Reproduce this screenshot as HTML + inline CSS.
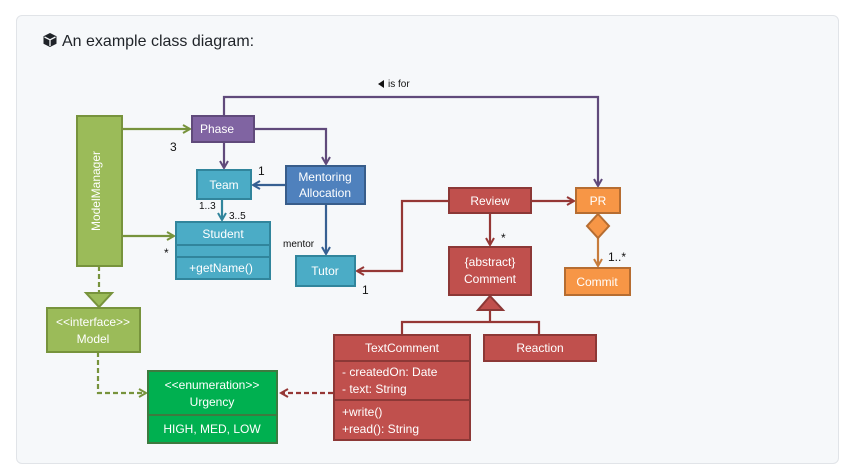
<!DOCTYPE html>
<html><head><meta charset="utf-8"><style>
html,body{margin:0;padding:0;background:#fff;width:851px;height:474px;overflow:hidden}
.box{position:absolute;left:16px;top:15px;width:821px;height:447px;background:#f6f8fa;border:1px solid #e1e4e8;border-radius:6px}
.title{position:absolute;left:42px;top:30px;font:16px "Liberation Sans",sans-serif;color:#1f2328}
svg{position:absolute;left:0;top:0}
text{font-family:"Liberation Sans",sans-serif}
</style></head><body>
<div class="box"></div>
<div class="title"><svg width="16" height="16" viewBox="0 0 16 16" style="position:relative;top:2px;left:0;margin-right:4px"><path d="M8 1 L14.5 4.2 V11.8 L8 15 L1.5 11.8 V4.2Z" fill="#1f2328"/><path d="M2.5 5 L8 7.8 L13.5 5 M8 7.8 V14" stroke="#f6f8fa" stroke-width="1.3" fill="none"/></svg>An example class diagram:</div>
<svg width="851" height="474" viewBox="0 0 851 474">
<defs>
<marker id="ag" markerWidth="10" markerHeight="10" refX="8" refY="5" orient="auto" markerUnits="userSpaceOnUse"><path d="M1 1 L8 5 L1 9" fill="none" stroke="#77933c" stroke-width="2"/></marker>
<marker id="ap" markerWidth="10" markerHeight="10" refX="8" refY="5" orient="auto" markerUnits="userSpaceOnUse"><path d="M1 1 L8 5 L1 9" fill="none" stroke="#604a7b" stroke-width="2"/></marker>
<marker id="ab" markerWidth="10" markerHeight="10" refX="8" refY="5" orient="auto" markerUnits="userSpaceOnUse"><path d="M1 1 L8 5 L1 9" fill="none" stroke="#376092" stroke-width="2"/></marker>
<marker id="at" markerWidth="10" markerHeight="10" refX="8" refY="5" orient="auto" markerUnits="userSpaceOnUse"><path d="M1 1 L8 5 L1 9" fill="none" stroke="#31859c" stroke-width="2"/></marker>
<marker id="ar" markerWidth="10" markerHeight="10" refX="8" refY="5" orient="auto" markerUnits="userSpaceOnUse"><path d="M1 1 L8 5 L1 9" fill="none" stroke="#953735" stroke-width="2"/></marker>
<marker id="ao" markerWidth="10" markerHeight="10" refX="8" refY="5" orient="auto" markerUnits="userSpaceOnUse"><path d="M1 1 L8 5 L1 9" fill="none" stroke="#c77c3c" stroke-width="2"/></marker>
</defs>
<g fill="none" stroke-width="2.2">
<path d="M122 129 H190" stroke="#77933c" marker-end="url(#ag)"/>
<path d="M122 236 H174" stroke="#77933c" marker-end="url(#ag)"/>
<path d="M99 266 V293" stroke="#77933c" stroke-dasharray="5,3"/>
<path d="M98 352 V393 H146" stroke="#77933c" stroke-dasharray="5,3" marker-end="url(#ag)"/>
<path d="M224 142 V168" stroke="#604a7b" marker-end="url(#ap)"/>
<path d="M254 129 H326 V164" stroke="#604a7b" marker-end="url(#ap)"/>
<path d="M224 116 V97 H598 V186" stroke="#604a7b" marker-end="url(#ap)"/>
<path d="M286 185 H253" stroke="#376092" marker-end="url(#ab)"/>
<path d="M326 204 V254" stroke="#376092" marker-end="url(#ab)"/>
<path d="M222 199 V220" stroke="#31859c" marker-end="url(#at)"/>
<path d="M449 201 H402 V271 H357" stroke="#953735" marker-end="url(#ar)"/>
<path d="M531 201 H574" stroke="#953735" marker-end="url(#ar)"/>
<path d="M490 213 V245" stroke="#953735" marker-end="url(#ar)"/>
<path d="M402 335 V322 H539 V335 M490 322 V310" stroke="#953735"/>
<path d="M598 237 V266" stroke="#c77c3c" marker-end="url(#ao)"/>
</g>
<g stroke-width="2">
<rect x="77" y="116" width="45" height="150" fill="#9bbb59" stroke="#77933c"/>
<path d="M86 293 H112 L99 307Z" fill="#9bbb59" stroke="#77933c"/>
<rect x="47" y="308" width="93" height="44" fill="#9bbb59" stroke="#77933c"/>
<rect x="192" y="116" width="62" height="26" fill="#8064a2" stroke="#604a7b"/>
<rect x="197" y="170" width="54" height="29" fill="#4bacc6" stroke="#31859c"/>
<rect x="286" y="166" width="79" height="38" fill="#4f81bd" stroke="#385d8a"/>
<rect x="176" y="222" width="94" height="57" fill="#4bacc6" stroke="#31859c"/>
<path d="M176 245 H270 M176 257 H270" stroke="#31859c"/>
<rect x="296" y="256" width="59" height="30" fill="#4bacc6" stroke="#31859c"/>
<rect x="449" y="188" width="82" height="25" fill="#c0504d" stroke="#8c3836"/>
<rect x="449" y="247" width="82" height="48" fill="#c0504d" stroke="#8c3836"/>
<path d="M478 310 H503 L490 296Z" fill="#c0504d" stroke="#8c3836"/>
<rect x="576" y="188" width="44" height="25" fill="#f79646" stroke="#b66d31"/>
<path d="M598 214 L609 226 L598 238 L587 226Z" fill="#f79646" stroke="#b66d31"/>
<rect x="565" y="268" width="65" height="27" fill="#f79646" stroke="#b66d31"/>
<rect x="148" y="371" width="129" height="72" fill="#00b050" stroke="#3d7a3f"/>
<path d="M148 415 H277" stroke="#3d7a3f"/>
<rect x="334" y="335" width="136" height="105" fill="#c0504d" stroke="#8c3836"/>
<path d="M334 361 H470 M334 400 H470" stroke="#8c3836"/>
<rect x="484" y="335" width="112" height="26" fill="#c0504d" stroke="#8c3836"/>
</g>
<path d="M333 393 H281" fill="none" stroke="#953735" stroke-width="2.2" stroke-dasharray="5,3" marker-end="url(#ar)"/>
<g fill="#fff" font-size="12" text-anchor="middle">
<text x="104" y="191" transform="rotate(-90 104 191)" dy="-4">ModelManager</text>
<text x="217" y="133">Phase</text>
<text x="224" y="189">Team</text>
<text x="325" y="181">Mentoring</text>
<text x="325" y="197">Allocation</text>
<text x="223" y="238">Student</text>
<text x="221" y="272">+getName()</text>
<text x="325" y="275">Tutor</text>
<text x="490" y="205">Review</text>
<text x="490" y="266">{abstract}</text>
<text x="490" y="283">Comment</text>
<text x="598" y="205">PR</text>
<text x="597" y="286">Commit</text>
<text x="93" y="326">&lt;&lt;interface&gt;&gt;</text>
<text x="93" y="343">Model</text>
<text x="212" y="389">&lt;&lt;enumeration&gt;&gt;</text>
<text x="212" y="406">Urgency</text>
<text x="212" y="433">HIGH, MED, LOW</text>
<text x="402" y="352">TextComment</text>
<text x="540" y="352">Reaction</text>
<g text-anchor="start"><text x="342" y="376">- createdOn: Date</text><text x="342" y="393">- text: String</text><text x="342" y="416">+write()</text><text x="342" y="433">+read(): String</text></g>
</g>
<g fill="#111" font-size="12">
<text x="170" y="151">3</text>
<text x="258" y="175">1</text>
<text x="164" y="257">*</text>
<text x="199" y="209" font-size="10">1..3</text>
<text x="229" y="219" font-size="10">3..5</text>
<text x="283" y="247" font-size="10">mentor</text>
<text x="362" y="294">1</text>
<text x="501" y="242">*</text>
<text x="608" y="261">1..*</text>
<path d="M378 84 L384 80 V88Z" fill="#111"/>
<text x="388" y="87" font-size="10">is for</text>
</g>
</svg>
</body></html>
